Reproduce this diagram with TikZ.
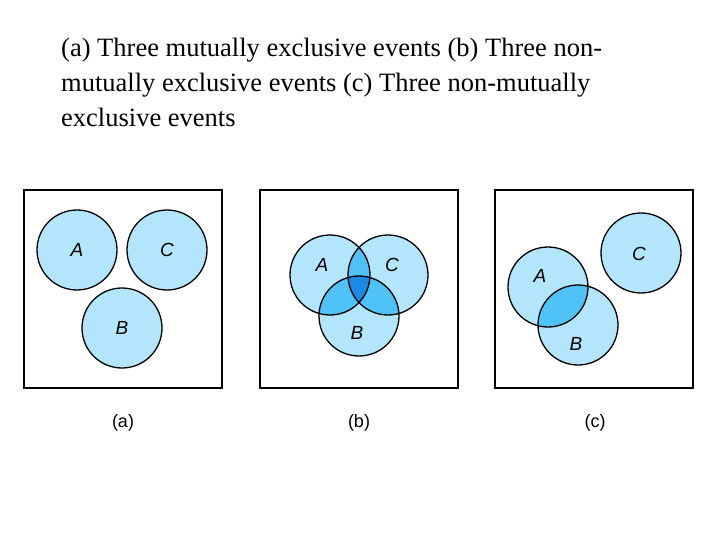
\documentclass[tikz,border=0pt]{standalone}
\usepackage{fontspec}
\setmainfont{Liberation Serif}
\newfontfamily\arialf{Liberation Sans}
\definecolor{lb}{HTML}{B3E5FC}
\definecolor{mb}{HTML}{4FC3F7}
\definecolor{db}{HTML}{1E88E5}
\begin{document}
\begin{tikzpicture}[x=1pt,y=-1pt,
  panel/.style={draw=black,line width=2pt},
  circ/.style={draw=black,line width=1.3pt},
  lab/.style={font=\arialf\itshape\fontsize{19}{19}\selectfont},
  captext/.style={font=\arialf\fontsize{18}{18}\selectfont},
  ttl/.style={font=\fontsize{26.5}{35}\selectfont,align=left,anchor=north west,inner sep=0pt}]
\useasboundingbox (0,0) rectangle (720,540);
\node[ttl] (title) at (61,38) {(a) Three mutually exclusive events (b) Three non-\\mutually exclusive events (c) Three non-mutually\\exclusive events};
% panels
\draw[panel] (24,190) rectangle (222,388);
\draw[panel] (260,190) rectangle (458,388);
\draw[panel] (495,190) rectangle (693,388);
% (a)
\foreach \p in {(77,250),(167,250),(122,328)} \fill[lb] \p circle (40);
\foreach \p in {(77,250),(167,250),(122,328)} \draw[circ] \p circle (40);
\node[lab] (aA) at (77,250) {A};
\node[lab] (aC) at (167,250) {C};
\node[lab] (aB) at (122,328) {B};
% (b)
\def\bA{(330,275)}\def\bC{(388,275)}\def\bB{(359,316)}
\fill[lb] \bA circle (40) \bC circle (40) \bB circle (40);
\begin{scope}\clip \bA circle (40); \fill[mb] \bC circle (40) \bB circle (40);\end{scope}
\begin{scope}\clip \bC circle (40); \fill[mb] \bB circle (40);\end{scope}
\begin{scope}\clip \bA circle (40); \clip \bC circle (40); \fill[db] \bB circle (40);\end{scope}
\draw[circ] \bA circle (40) \bC circle (40) \bB circle (40);
\node[lab] (bAl) at (322,265) {A};
\node[lab] (bCl) at (392,265) {C};
\node[lab] (bBl) at (357,333) {B};
% (c)
\def\cA{(548,287)}\def\cB{(578,325)}\def\cC{(641,253)}
\fill[lb] \cA circle (40) \cB circle (40) \cC circle (40);
\begin{scope}\clip \cA circle (40); \fill[mb] \cB circle (40);\end{scope}
\draw[circ] \cA circle (40) \cB circle (40) \cC circle (40);
\node[lab] (cAl) at (540,276) {A};
\node[lab] (cBl) at (576,344) {B};
\node[lab] (cCl) at (639,254) {C};
% captions
\node[captext] (ca) at (123,423) {(a)};
\node[captext] (cb) at (359,423) {(b)};
\node[captext] (cc) at (595,423) {(c)};
\end{tikzpicture}
\end{document}
